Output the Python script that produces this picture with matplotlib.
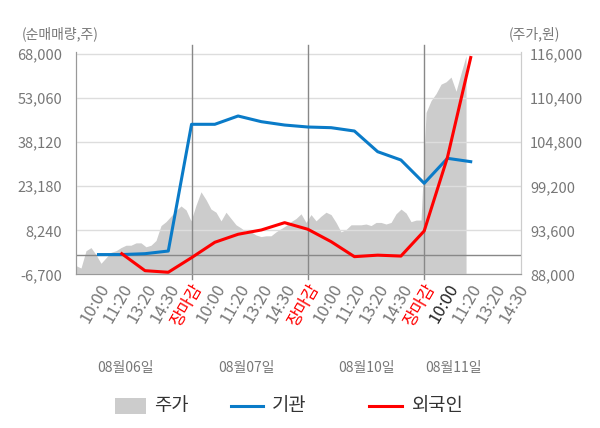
import numpy as np
import matplotlib
matplotlib.use("Agg")
import matplotlib.pyplot as plt
import matplotlib.transforms as mtransforms
from matplotlib.patches import Rectangle
from matplotlib.lines import Line2D

plt.rcParams['font.family'] = ['Noto Sans CJK KR', 'DejaVu Sans']

# x축 라벨 (카테고리)
x_labels = ['10:00', '11:20', '13:20', '14:30', '장마감'] * 3 + ['10:00', '11:20', '13:20', '14:30']
day_labels = ['08월06일', '08월07일', '08월10일', '08월11일']
day_label_pos = [1.14, 6.34, 11.54, 15.28]
day_close_idx = [4, 9, 14]

# 순매매량 (주)
inst = [0, 0, 300, 1200, 44230, 44230, 47050, 45120, 43980, 43310, 43080,
        41950, 34930, 32110, 24200, 32680, 31540]
foreign = [np.nan, 300, -5470, -6010, -1050, 4170, 6890, 8350, 10830, 8590,
           4380, -710, -200, -510, 8010, 33000, 66900]

# 주가 (원), 일정 간격 샘플
price = [89100, 88800, 91000, 91400, 90500, 89400, 90100, 90800, 91000, 91400,
         91700, 91700, 92000, 92000, 91500, 91700, 92300, 94200, 94700, 95400,
         96100, 96700, 96200, 94800, 96800, 98500, 97500, 96300, 95900, 94800,
         95900, 95100, 94300, 93900, 93400, 93400, 93000, 92800, 92900, 92900,
         93400, 93800, 94200, 94700, 95100, 95700, 94600, 95600, 94800, 95400,
         95900, 95600, 94600, 93400, 93700, 94300, 94300, 94300, 94400, 94200,
         94600, 94600, 94400, 94600, 95700, 96300, 95800, 94700, 94900, 94900,
         108600, 110100, 111000, 112200, 112500, 113100, 111300, 113600, 115800]

left_ticks = [-6700, 8240, 23180, 38120, 53060, 68000]
right_ticks = [88000, 93600, 99200, 104800, 110400, 116000]

# 주가 샘플 -> 카테고리 좌표 (10:00 = 0)
samples_per_slot = 4.652
first_slot_sample = 4.5
price_x = (np.arange(len(price)) - first_slot_sample) / samples_per_slot

fig = plt.figure(figsize=(6, 4.28), dpi=100)
ax = fig.add_axes([76 / 600, 1 - 274.3 / 428, 444.5 / 600, 222.6 / 428])
ax2 = ax.twinx()
ax.set_zorder(ax2.get_zorder() + 1)
ax.patch.set_visible(False)
ax2.set_facecolor('#f5f5f5')

ax2.fill_between(price_x, 88000, price, color='#cccccc', lw=0)
ax2.set_ylim(88000, 116330)
ax2.set_yticks(right_ticks)
ax2.set_yticklabels([f'{v:,}' for v in right_ticks])

ax.set_ylim(-6700, 68880)
ax.set_yticks(left_ticks)
ax.set_yticklabels([f'{v:,}' for v in left_ticks])
ax.set_xlim(-0.967, 18.14)

ax.grid(axis='y', color='#dddddd', lw=1)
ax.set_axisbelow(True)
ax.axhline(0, color='#888888', lw=1, zorder=1.5)
for i in day_close_idx:
    ax.axvline(i, ymin=-0.02, ymax=1.03, color='#888888', lw=1, clip_on=False, zorder=1.5)

n = np.arange(len(inst))
ax.plot(n, inst, color='#0a7bc8', lw=2.2, zorder=3)
ax.plot(n, foreign, color='#ff0000', lw=2.2, zorder=4)

ax.set_xticks(np.arange(len(x_labels)))
ax.set_xticklabels(x_labels, rotation=60, ha='right', va='top', rotation_mode='anchor')
shift = mtransforms.ScaledTranslation(-3 / 100, 0, fig.dpi_scale_trans)
for i, t in enumerate(ax.get_xticklabels()):
    t.set_transform(t.get_transform() + shift)
    if x_labels[i] == '장마감':
        t.set_color('#ff0000')
    elif i == 15:
        t.set_color('#222222')
    else:
        t.set_color('#777777')
ax.tick_params(axis='x', length=0, pad=5, labelsize=12)
ax.tick_params(axis='y', length=0, pad=10, labelsize=10.5, labelcolor='#777777')
ax2.tick_params(axis='y', length=0, pad=7, labelsize=10.5, labelcolor='#777777')

for a in (ax, ax2):
    a.spines['top'].set_visible(False)
    a.spines['left'].set_color('#999999')
    a.spines['bottom'].set_color('#999999')
    a.spines['right'].set_color('#cccccc')

for pos, lab in zip(day_label_pos, day_labels):
    ax.text(pos, -0.42, lab, transform=ax.get_xaxis_transform(), ha='center', va='center',
            fontsize=10, color='#777777')

fig.text(22 / 600, 1 - 34 / 428, '(순매매량,주)', fontsize=10, color='#777777', va='center')
fig.text(509 / 600, 1 - 34 / 428, '(주가,원)', fontsize=10, color='#777777', va='center')

# 범례
ly = 1 - 406 / 428
fig.add_artist(Rectangle((114.6 / 600, ly - 8 / 428), 31.5 / 600, 16 / 428,
                         transform=fig.transFigure, color='#cccccc', lw=0))
fig.text(154 / 600, ly, '주가', fontsize=13.5, color='#333333', va='center')
fig.add_artist(Line2D([231 / 600, 263 / 600], [ly, ly], transform=fig.transFigure,
                      color='#0a7bc8', lw=2.2))
fig.text(272 / 600, ly, '기관', fontsize=13.5, color='#333333', va='center')
fig.add_artist(Line2D([369 / 600, 402 / 600], [ly, ly], transform=fig.transFigure,
                      color='#ff0000', lw=2.2))
fig.text(411.5 / 600, ly, '외국인', fontsize=13.5, color='#333333', va='center')

fig.savefig('out.png', dpi=100)
